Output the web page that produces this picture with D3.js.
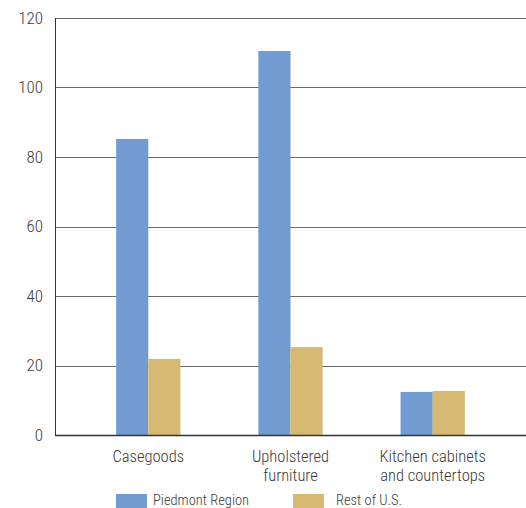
<!DOCTYPE html>
<html>
<head>
<meta charset="utf-8">
<script src="https://cdn.jsdelivr.net/npm/d3@7/dist/d3.min.js"></script>
<style>
  html, body { margin: 0; padding: 0; background: #fff; }
  svg { display: block; }
  text { font-family: "Liberation Sans Narrow", "Roboto Condensed", "Liberation Sans", sans-serif; font-weight: 300; fill: #3a3a3a; }
</style>
</head>
<body>
<svg id="chart" width="526" height="508"></svg>
<script>
// Categories and series
const categories = [["Casegoods"], ["Upholstered", "furniture"], ["Kitchen cabinets", "and countertops"]];
const categoryKeys = ["Casegoods", "Upholstered furniture", "Kitchen cabinets and countertops"];
const seriesNames = ["Piedmont Region", "Rest of U.S."];
const piedmont = [85.2, 110.5, 12.4];
const restOfUS = [21.9, 25.3, 12.7];
const yTicks = [0, 20, 40, 60, 80, 100, 120];
const colors = ["#729bd1", "#d6b973"];

const svg = d3.select("#chart");
const W = 526, H = 508;
const margin = { left: 55, right: 0, top: 18, bottom: 73 };
const plotBottom = H - margin.bottom;

const y = d3.scaleLinear().domain([0, 120]).range([plotBottom, margin.top]);

const x = d3.scaleBand()
  .domain(categoryKeys)
  .range([margin.left, W - margin.right])
  .paddingInner(0.548)
  .paddingOuter(0.43);

const xs = d3.scaleBand().domain(seriesNames).range([0, x.bandwidth()]);

// Horizontal gridlines
svg.append("g")
  .selectAll("line")
  .data(yTicks.filter(d => d > 0))
  .join("line")
  .attr("x1", margin.left).attr("x2", W)
  .attr("y1", d => Math.round(y(d)) + 0.5).attr("y2", d => Math.round(y(d)) + 0.5)
  .attr("stroke", "#6b6b6b").attr("stroke-width", 1);

// Y axis labels
svg.append("g")
  .selectAll("text")
  .data(yTicks)
  .join("text")
  .attr("x", 43)
  .attr("y", d => y(d))
  .attr("dy", "0.35em")
  .attr("text-anchor", "end")
  .attr("font-size", 17)
  .text(d => d);

// Bars
const rows = categoryKeys.map((k, i) => ({ key: k, values: [piedmont[i], restOfUS[i]] }));
const groups = svg.append("g").selectAll("g")
  .data(rows)
  .join("g")
  .attr("transform", d => `translate(${x(d.key)},0)`);

groups.selectAll("rect")
  .data(d => d.values.map((v, j) => ({ s: seriesNames[j], v, j })))
  .join("rect")
  .attr("x", d => xs(d.s))
  .attr("width", xs.bandwidth())
  .attr("y", d => y(d.v))
  .attr("height", d => y(0) - y(d.v))
  .attr("fill", d => colors[d.j]);

// Axis lines
svg.append("line")
  .attr("x1", margin.left + 0.5).attr("x2", margin.left + 0.5)
  .attr("y1", margin.top).attr("y2", plotBottom)
  .attr("stroke", "#333").attr("stroke-width", 1);
svg.append("line")
  .attr("x1", margin.left).attr("x2", W)
  .attr("y1", Math.round(y(0)) + 0.5).attr("y2", Math.round(y(0)) + 0.5)
  .attr("stroke", "#333").attr("stroke-width", 1.5);

// Category labels
svg.append("g").selectAll("text")
  .data(categoryKeys.map((k, i) => ({ k, lines: categories[i] })))
  .join("text")
  .attr("text-anchor", "middle")
  .attr("font-size", 16.5)
  .each(function (d) {
    const t = d3.select(this);
    d.lines.forEach((ln, i) => {
      t.append("tspan")
        .attr("x", x(d.k) + x.bandwidth() / 2)
        .attr("y", 462 + i * 18.5)
        .text(ln);
    });
  });

// Legend
const legend = svg.append("g").selectAll("g")
  .data(seriesNames)
  .join("g")
  .attr("transform", (d, i) => `translate(${i === 0 ? 116 : 293},494)`);
legend.append("rect")
  .attr("width", 31).attr("height", 14)
  .attr("fill", (d, i) => colors[i]);
legend.append("text")
  .attr("x", (d, i) => i === 0 ? 37 : 43)
  .attr("y", 11)
  .attr("font-size", 14.5)
  .text(d => d);
</script>
</body>
</html>
